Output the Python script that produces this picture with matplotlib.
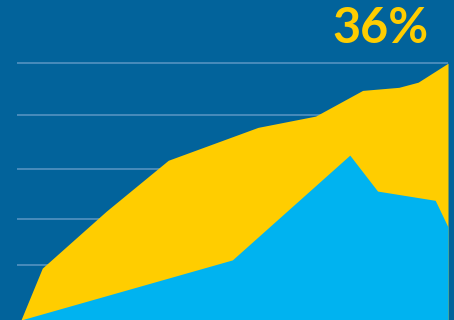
import matplotlib.pyplot as plt

# data (x in weeks, y in percent)
gold_x = [0, 1.0, 4.0, 6.9, 11.1, 13.8, 16.0, 17.7, 18.6, 20.0]
gold_y = [0, 10.1, 21.2, 31.1, 37.5, 39.7, 44.7, 45.3, 46.3, 50.0]
sky_x = [0, 9.9, 15.4, 16.7, 19.4, 20.0]
sky_y = [0, 11.7, 32.1, 25.1, 23.3, 18.1]
grid_vals = [10.7, 19.6, 29.4, 39.9, 50]
headline = "36%"

bg = "#02639b"
gold = "#ffcd00"
sky = "#00b3f0"

fig = plt.figure(figsize=(4.54, 3.20), dpi=100, facecolor=bg)
ax = fig.add_axes([0, 0, 1, 1], facecolor=bg)

ax.hlines(grid_vals, -0.19, 20.0, color="#5b97c4", lw=1.1, zorder=1)
ax.fill_between(gold_x, 0, gold_y, color=gold, lw=0, zorder=2)
ax.fill_between(sky_x, 0, sky_y, color=sky, lw=0, zorder=3)

ax.text(0.838, 0.91, headline, transform=ax.transAxes, ha="center", va="center",
        fontsize=35, color=gold, family=["Lato", "DejaVu Sans"], fontweight="bold")

ax.set_xlim(-0.98, 20.28)
ax.set_ylim(0, 62.3)
ax.axis("off")

fig.savefig("out.png", dpi=100, facecolor=bg)
